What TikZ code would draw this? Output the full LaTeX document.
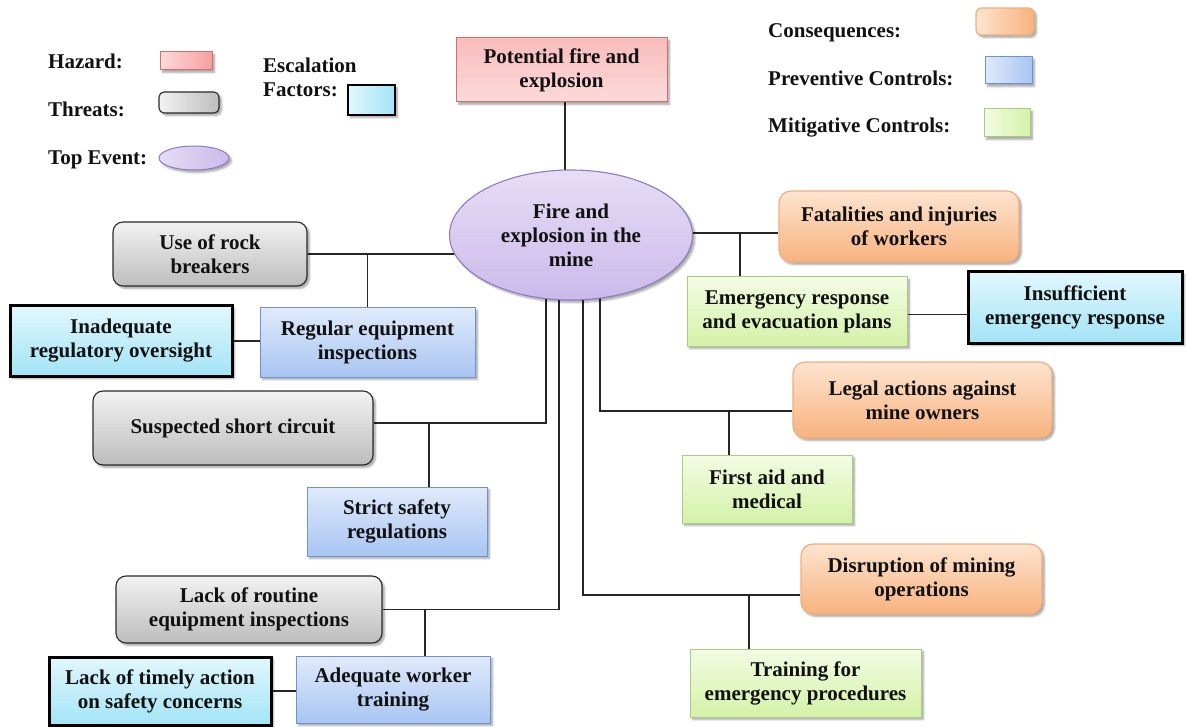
\documentclass[tikz,border=0pt]{standalone}
\usepackage{fontspec}
\setmainfont{Liberation Serif}
\usetikzlibrary{shapes.geometric,shadows.blur,backgrounds,calc}

% fills and borders for each element type
\definecolor{hazT}{HTML}{F8BCBC}
\definecolor{hazB}{HTML}{FCDADA}
\definecolor{hazR}{HTML}{F5A0A0}
\definecolor{hazD}{HTML}{D27070}
\definecolor{thrT}{HTML}{F2F2F2}
\definecolor{thrB}{HTML}{BDBDBD}
\definecolor{thrD}{HTML}{2B2B2B}
\definecolor{topT}{HTML}{E6DDF5}
\definecolor{topB}{HTML}{CBBAEA}
\definecolor{topD}{HTML}{8E7CC3}
\definecolor{escT}{HTML}{E2F7FD}
\definecolor{escB}{HTML}{A2E4F6}
\definecolor{conT}{HTML}{FDE4D0}
\definecolor{conB}{HTML}{F8B27E}
\definecolor{conD}{HTML}{F2AE7C}
\definecolor{preT}{HTML}{E0EAFB}
\definecolor{preB}{HTML}{A8C5F2}
\definecolor{preD}{HTML}{6F92CF}
\definecolor{mitT}{HTML}{F3FCE3}
\definecolor{mitB}{HTML}{D4F2A8}
\definecolor{mitD}{HTML}{A9CB82}
\definecolor{ink}{HTML}{111111}

\begin{document}
\begin{tikzpicture}[x=1pt,y=-1pt,
  every node/.style={font=\fontsize{21}{24}\selectfont\bfseries, text=ink, align=center, inner sep=2pt},
  shade/.style={blur shadow={shadow xshift=2.5pt,shadow yshift=-2.5pt,shadow blur steps=6,shadow opacity=35}},
  hazbox/.style={shade, draw=hazD, line width=1pt, top color=hazT, bottom color=hazB},
  thrbox/.style={shade, draw=thrD, line width=1.1pt, rounded corners=10pt, top color=thrT, bottom color=thrB},
  topev/.style={shade, ellipse, draw=topD, line width=1.1pt, top color=topT, bottom color=topB, inner sep=0pt},
  escbox/.style={shade, draw=black, line width=3pt, top color=escT, bottom color=escB},
  conbox/.style={shade, draw=conD, line width=1.2pt, rounded corners=12pt, top color=conT, bottom color=conB},
  prebox/.style={shade, draw=preD, line width=1pt, top color=preT, bottom color=preB},
  mitbox/.style={shade, draw=mitD, line width=1pt, top color=mitT, bottom color=mitB},
  legtext/.style={anchor=base west, inner sep=0pt, align=left},
  link/.style={draw=black!85, line width=1.2pt}
]
\useasboundingbox (0,0) rectangle (1186,727);

% ---- legend ----
\node[legtext] (lhaz) at (48,69) {Hazard:};
\node[legtext] (lthr) at (48,117) {Threats:};
\node[legtext] (ltop) at (48,165) {Top Event:};
\node[legtext, anchor=north west] (lesc) at (263,58) {Escalation\\Factors:};
\node[legtext] (lcon) at (768,38) {Consequences:};
\node[legtext] (lpre) at (768,86) {Preventive Controls:};
\node[legtext] (lmit) at (768,133) {Mitigative Controls:};

\node[shade, draw=hazD, line width=1pt, left color=hazB, right color=hazR, minimum width=52pt, minimum height=18pt, inner sep=0pt] (shaz) at (186,61) {};
\node[shade, draw=thrD, line width=1.1pt, rounded corners=5pt, left color=thrT, right color=thrB, minimum width=60pt, minimum height=21pt, inner sep=0pt] (sthr) at (189,102.5) {};
\node[shade, ellipse, draw=topD, line width=1pt, left color=topT, right color=topB, minimum width=70pt, minimum height=24pt, inner sep=0pt] (stop) at (194,158) {};
\node[shade, draw=black, line width=2.5pt, left color=escT, right color=escB, minimum width=47pt, minimum height=30pt, inner sep=0pt] (sesc) at (371.5,100) {};
\node[shade, draw=conD, line width=1.2pt, rounded corners=5pt, left color=conT, right color=conB, minimum width=58pt, minimum height=27pt, inner sep=0pt] (scon) at (1005,21.5) {};
\node[shade, draw=preD, line width=1pt, left color=preT, right color=preB, minimum width=47pt, minimum height=27pt, inner sep=0pt] (spre) at (1008.5,70.5) {};
\node[shade, draw=mitD, line width=1pt, left color=mitT, right color=mitB, minimum width=46pt, minimum height=28pt, inner sep=0pt] (smit) at (1007,123) {};

% ---- hazard and top event ----
\node[hazbox, minimum width=211pt, minimum height=64pt] (haz) at (561.5,70) {Potential fire and\\explosion};
\node[topev, minimum width=243pt, minimum height=130pt] (top) at (571,235) {Fire and\\explosion in the\\mine};

% ---- threats side ----
\node[thrbox, minimum width=194pt, minimum height=64pt] (rock) at (210,254) {Use of rock\\breakers};
\node[prebox, minimum width=215pt, minimum height=69pt] (ure) at (367.5,342.5) {Regular equipment\\inspections};
\node[escbox, minimum width=222pt, minimum height=70pt] (iro) at (121,341) {Inadequate\\regulatory oversight};
\node[thrbox, minimum width=280pt, minimum height=74pt] (ssc) at (233,428) {Suspected short circuit};
\node[prebox, minimum width=180pt, minimum height=69pt] (ssr) at (397,521.5) {Strict safety\\regulations};
\node[thrbox, minimum width=266pt, minimum height=67pt] (lre) at (249,609.5) {Lack of routine\\equipment inspections};
\node[prebox, minimum width=194pt, minimum height=67pt] (awt) at (393,689.5) {Adequate worker\\training};
\node[escbox, minimum width=222pt, minimum height=68pt] (lta) at (160,691) {Lack of timely action\\on safety concerns};

% ---- consequences side ----
\node[conbox, minimum width=240pt, minimum height=71pt] (fat) at (899,226.5) {Fatalities and injuries\\of workers};
\node[mitbox, minimum width=220pt, minimum height=69pt] (erp) at (797,311.5) {Emergency response\\and evacuation plans};
\node[escbox, minimum width=214pt, minimum height=71pt] (ier) at (1075,307.5) {Insufficient\\emergency response};
\node[conbox, minimum width=259pt, minimum height=76pt] (leg) at (922.5,400) {Legal actions against\\mine owners};
\node[mitbox, minimum width=170pt, minimum height=68pt] (fam) at (767,489) {First aid and\\medical};
\node[conbox, minimum width=241pt, minimum height=70pt] (dmo) at (921.5,579) {Disruption of mining\\operations};
\node[mitbox, minimum width=231pt, minimum height=68pt] (tep) at (805.5,683) {Training for\\emergency procedures};

% ---- routing points ----
\coordinate (e1) at ([yshift=5pt]ssc.east);
\coordinate (e2) at (lre.east);
\coordinate (e3) at ([yshift=-11pt]leg.west);
\coordinate (e4) at ([yshift=-16pt]dmo.west);
\coordinate (e5) at ([yshift=-6.5pt]fat.west);
\coordinate (k2) at ([xshift=32pt]ssr.north);
\coordinate (k3) at ([xshift=32pt]awt.north);
\coordinate (k4) at ([xshift=-57pt]erp.north);
\coordinate (k5) at ([xshift=-38pt]fam.north);
\coordinate (k6) at ([xshift=-56.5pt]tep.north);

% ---- connectors ----
\begin{scope}[on background layer]
  \draw[link] ([xshift=3.5pt]haz.south) -- ([xshift=3.5pt]haz.south |- top.center);
  \draw[link] (rock.east) -- (rock.east -| top.center);
  \draw[link] (ure.north) -- (ure.north |- rock.east);
  \draw[link] (iro.east) -- (iro.east -| ure.west);
  \draw[link] ([xshift=-25pt]top.center) |- (e1);
  \draw[link] (k2) -- (k2 |- e1);
  \draw[link] ([xshift=-12pt]top.center) |- (e2);
  \draw[link] (k3) -- (k3 |- e2);
  \draw[link] (lta.east) -- (lta.east -| awt.west);
  \draw[link] (top.center |- e5) -- (e5);
  \draw[link] (k4) -- (k4 |- e5);
  \draw[link] ([yshift=-3pt]erp.east) -- ([yshift=-3pt]erp.east -| ier.west);
  \draw[link] ([xshift=29pt]top.center) |- (e3);
  \draw[link] (k5) -- (k5 |- e3);
  \draw[link] ([xshift=12pt]top.center) |- (e4);
  \draw[link] (k6) -- (k6 |- e4);
\end{scope}
\end{tikzpicture}
\end{document}
